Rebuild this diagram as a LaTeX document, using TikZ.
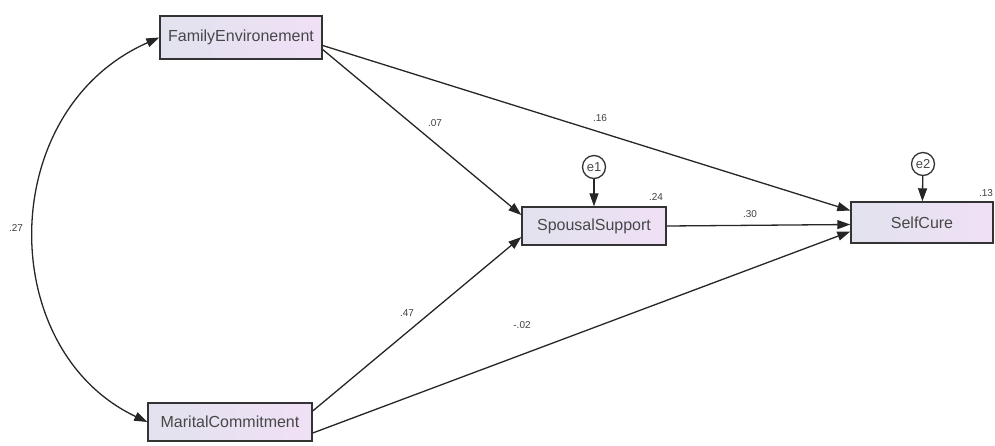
\documentclass[tikz,border=0pt]{standalone}
\usepackage{fontspec}
\setmainfont{Liberation Sans}
\usetikzlibrary{arrows.meta}
\definecolor{boxL}{RGB}{226,226,238}
\definecolor{boxR}{RGB}{240,224,246}
\tikzset{
  var/.style={draw=black!80, line width=1.4pt, left color=boxL, right color=boxR, minimum height=40pt, inner xsep=3pt, font=\fontsize{16}{18}\selectfont, text=black!72},
  err/.style={draw=black!80, circle, line width=1.3pt, minimum size=23pt, inner sep=0pt, font=\fontsize{13}{14}\selectfont, text=black!72},
  path/.style={line width=1.3pt, black!85, -{Triangle[length=13pt,width=9pt]}},
  lab/.style={font=\fontsize{10}{11}\selectfont, text=black!75},
}
\begin{document}
\begin{tikzpicture}[x=1pt,y=-1pt]
\useasboundingbox (0,0) rectangle (995,445);
\node[var, minimum width=162pt, minimum height=43pt] (fe) at (241,37.5) {FamilyEnvironement};
\node[var, minimum width=164pt, minimum height=38pt] (mc) at (230,422) {MaritalCommitment};
\node[var, minimum width=144pt, minimum height=38pt] (ss) at (594,226) {SpousalSupport};
\node[var, minimum width=142pt, minimum height=41pt] (sc) at (922,222.5) {SelfCure};
\node[err] (e1) at (594,167) {e1};
\node[err] (e2) at (923,164) {e2};
\draw[path] (e1) -- (ss);
\draw[path] (e2) -- (sc);
\draw[path] ([yshift=-8pt]fe.east) -- ([yshift=12pt]sc.west);
\draw[path] ([yshift=-12pt]fe.east) -- ([yshift=11pt]ss.west);
\draw[path] ([yshift=11pt]mc.east) -- ([yshift=-11pt]ss.west);
\draw[path] ([yshift=-11pt]mc.east) -- ([yshift=-9pt]sc.west);
\draw[path] (ss.east) -- ([yshift=-2pt]sc.west);
\draw[line width=1.3pt, black!85, {Triangle[length=13pt,width=9pt]}-{Triangle[length=13pt,width=9pt]}] (fe.west) .. controls (-5,110) and (-5,350) .. (mc.west);
\node[lab] (l1) at (600,118) {.16};
\node[lab] (l2) at (435,123) {.07};
\node[lab] (l3) at (750,214) {.30};
\node[lab] (l4) at (407,313) {.47};
\node[lab] (l5) at (522,325) {-.02};
\node[lab] (l6) at (16,228) {.27};
\node[lab] (l7) at (656,197) {.24};
\node[lab] (l8) at (986,193) {.13};
\end{tikzpicture}
\end{document}
